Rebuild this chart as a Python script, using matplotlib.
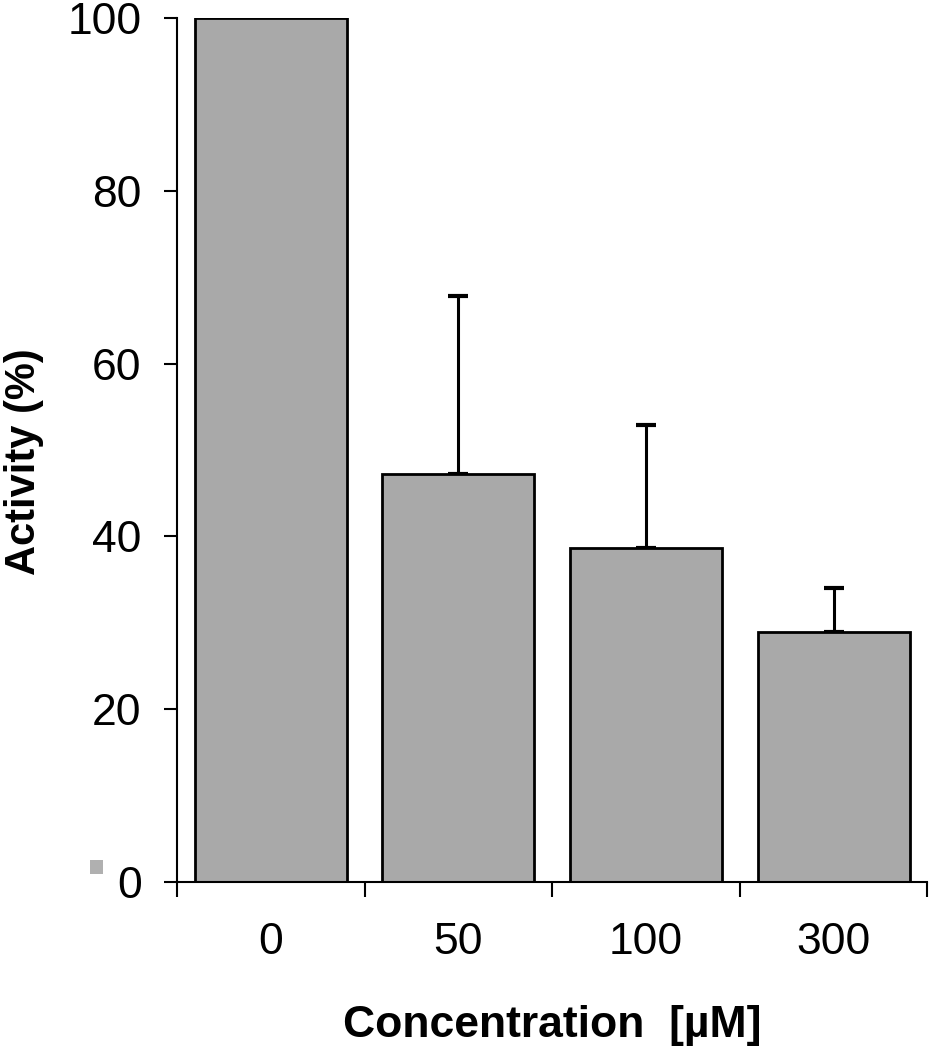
import matplotlib.pyplot as plt
from matplotlib.patches import Rectangle

conc = ["0", "50", "100", "300"]
activity = [100, 47.2, 38.7, 28.9]
err_up = [0, 20.6, 14.2, 5.1]

plt.rcParams['font.family'] = ['Liberation Sans', 'DejaVu Sans']

fig = plt.figure(figsize=(9.32, 10.5), dpi=100)
ax = fig.add_axes([0.19, 0.16, 0.805, 0.823])

x = range(len(conc))
ax.bar(x, activity, width=0.81, color="#a9a9a9", edgecolor="black", linewidth=2, zorder=2)
ax.errorbar([i for i in x if err_up[i] > 0], [activity[i] for i in x if err_up[i] > 0],
            yerr=[[0] * 3, [e for e in err_up if e > 0]], fmt="none", ecolor="black",
            elinewidth=2.2, capsize=7.5, capthick=3, zorder=1)

ax.set_xlim(-0.5, 3.5)
ax.set_ylim(0, 100)
ax.set_yticks(range(0, 101, 20))
ax.set_xticks(list(x))
ax.set_xticklabels(conc)
ax.set_xticks([-0.5, 0.5, 1.5, 2.5, 3.5], minor=True)
ax.tick_params(axis="x", which="major", length=0, pad=29, labelsize=32)
ax.tick_params(axis="x", which="minor", length=10.5, width=1.5, direction="out")
ax.tick_params(axis="y", length=9.5, width=1.5, direction="out", pad=16, labelsize=32)

for s in ["top", "right"]:
    ax.spines[s].set_visible(False)
ax.spines["left"].set_linewidth(1.5)
ax.spines["bottom"].set_linewidth(1.5)

ax.set_ylabel("Activity (%)", fontsize=30, fontweight="bold")
ax.yaxis.set_label_coords(-0.178, 0.487)
ax.set_xlabel("Concentration  [\u00b5M]", fontsize=32, fontweight="bold", labelpad=30)

fig.patches.append(Rectangle((0.097, 0.168), 0.014, 0.013, transform=fig.transFigure,
                             facecolor="#b0b0b0", edgecolor="none"))

fig.savefig("out.png")
